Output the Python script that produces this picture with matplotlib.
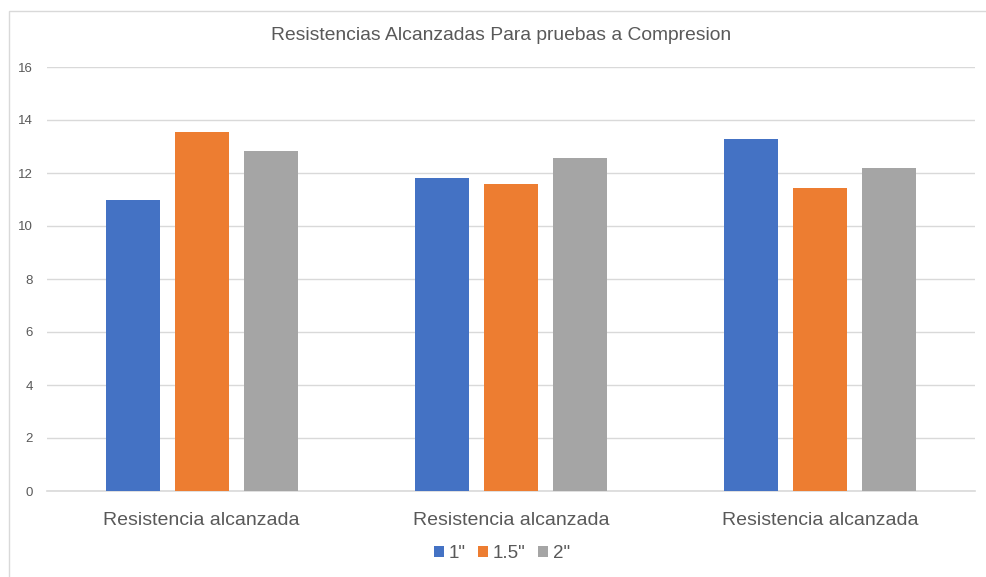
import numpy as np
import matplotlib.pyplot as plt
from matplotlib.patches import Rectangle

plt.rcParams['font.family'] = ['Liberation Sans', 'DejaVu Sans']

# datos
categorias = ["Resistencia alcanzada", "Resistencia alcanzada", "Resistencia alcanzada"]
series = ['1"', '1.5"', '2"']
val_1 = [10.98, 11.81, 13.27]
val_15 = [13.54, 11.57, 11.42]
val_2 = [12.83, 12.55, 12.19]
colores = ["#4472C4", "#ED7D31", "#A5A5A5"]

texto = "#595959"
rejilla = "#D9D9D9"

fig = plt.figure(figsize=(9.87, 5.77), dpi=100)
ax = fig.add_axes([47 / 987, 1 - 491 / 577, (975 - 47) / 987, (491 - 67) / 577])

x = np.arange(len(categorias))
paso = 0.223
ancho = 0.174
for i, (vals, nombre) in enumerate(zip([val_1, val_15, val_2], series)):
    ax.bar(x + (i - 1) * paso, vals, width=ancho, color=colores[i], label=nombre, zorder=3)

ax.set_xlim(-0.5, 2.5)
ax.set_ylim(0, 16)
ax.set_yticks(range(0, 17, 2))
ax.set_xticks(x)
ax.set_xticklabels(categorias)
ax.grid(axis="y", color=rejilla, linewidth=1, zorder=0)
for s in ["top", "right", "left"]:
    ax.spines[s].set_visible(False)
ax.spines["bottom"].set_color(rejilla)
ax.spines["bottom"].set_linewidth(1.2)
ax.tick_params(axis="y", length=0, pad=10, labelsize=9.5, labelcolor=texto)
ax.tick_params(axis="x", length=0, pad=15, labelsize=14, labelcolor=texto)

fig.text(501 / 987, 1 - 35 / 577, "Resistencias Alcanzadas Para pruebas a Compresion",
         ha="center", va="center", fontsize=13.9, color=texto)

leg = fig.legend(loc="center", bbox_to_anchor=(502 / 987, 1 - 554 / 577), ncol=3,
                 frameon=False, fontsize=13.5, handlelength=0.54, handleheight=0.54,
                 handletextpad=0.25, columnspacing=0.65, labelcolor=texto)

# borde del grafico
fig.patches.append(Rectangle((9 / 987, -0.01), 1.0, 1 - 11 / 577 + 0.01,
                             transform=fig.transFigure, fill=False,
                             edgecolor=rejilla, linewidth=1))

plt.savefig("out.png", dpi=100)
